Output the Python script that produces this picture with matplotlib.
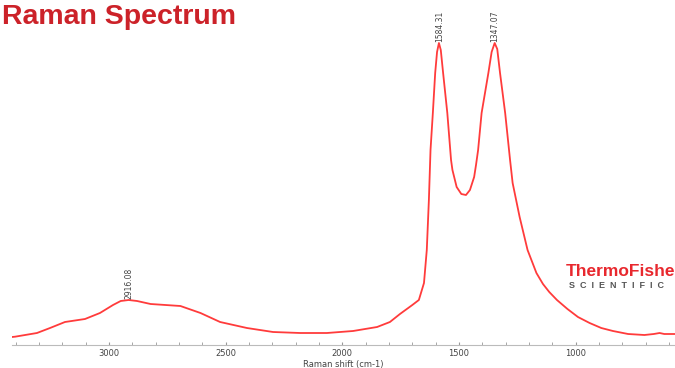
import matplotlib.pyplot as plt
from matplotlib.ticker import MultipleLocator

# Raman spectrum (arbitrary intensity units)
shift = [3416, 3403, 3309, 3253, 3189, 3103, 3039, 2983, 2950, 2916, 2880, 2822,
         2694, 2608, 2524, 2409, 2297, 2181, 2066, 1954, 1851, 1796, 1753, 1700,
         1672, 1650, 1638, 1629, 1622, 1612, 1602, 1594, 1586, 1578, 1568, 1550,
         1534, 1528, 1510, 1490, 1470, 1453, 1435, 1427, 1418, 1403, 1374, 1360,
         1347, 1336, 1324, 1302, 1281, 1270, 1240, 1206, 1168, 1140, 1113, 1080,
         1035, 990, 940, 890, 840, 775, 705, 665, 640, 620, 574]
intensity = [8, 8.3, 12, 17, 23, 26, 32, 40, 44, 45, 44, 41,
             39, 32, 23, 17, 13, 12, 12, 14, 18, 23, 31, 40,
             45, 62, 95, 145, 195, 232, 272, 293, 302, 295, 272, 232,
             185, 175, 158, 151, 150, 155, 168, 180, 195, 232, 272, 293,
             302, 296, 272, 232, 185, 162, 128, 95, 72, 61, 53, 45,
             36, 28, 22, 17, 14, 11, 10, 11, 12, 11, 11]

peak_pos = [2916.08, 1584.31, 1347.07]
peak_val = [45, 302, 302]

red = '#ff3b3b'

fig = plt.figure(figsize=(6.75, 3.68), dpi=100)
ax = fig.add_axes([12 / 675, 23 / 368, 1 - 12 / 675, 345 / 368])
ax.plot(shift, intensity, color=red, lw=1.3)
ax.set_xlim(3416, 574)
ax.set_ylim(0, 345)

for p, v in zip(peak_pos, peak_val):
    ax.annotate('%.2f' % p, (p, v), xytext=(0, 1), textcoords='offset points',
                rotation=90, ha='center', va='bottom', fontsize=5.5, color='#444444')

for s in ['top', 'left', 'right']:
    ax.spines[s].set_visible(False)
ax.spines['bottom'].set_color('#bbbbbb')
ax.set_yticks([])
ax.xaxis.set_major_locator(MultipleLocator(500))
ax.xaxis.set_minor_locator(MultipleLocator(100))
ax.tick_params(axis='x', which='both', direction='in', length=2, color='#999999',
               labelsize=6, labelcolor='#444444', pad=3)
ax.set_xlabel('Raman shift (cm-1)', fontsize=6, color='#444444', labelpad=1)

fig.text(0.003, 0.99, 'Raman Spectrum', fontsize=20.5, fontweight='bold',
         family='Liberation Sans', color='#cc2229', ha='left', va='top')
# logo runs off the right edge, as in the reference
fig.text(566 / 675, 1 - 271 / 368, 'ThermoFisher', fontsize=12.5, fontweight='bold',
         family='Liberation Sans', color='#e8282e', ha='left', va='center')
fig.text(569 / 675, 1 - 286 / 368, 'S  C  I  E  N  T  I  F  I  C', fontsize=6.5,
         fontweight='bold', family='Liberation Sans', color='#555555', ha='left', va='center')

fig.savefig('out.png', dpi=100)
